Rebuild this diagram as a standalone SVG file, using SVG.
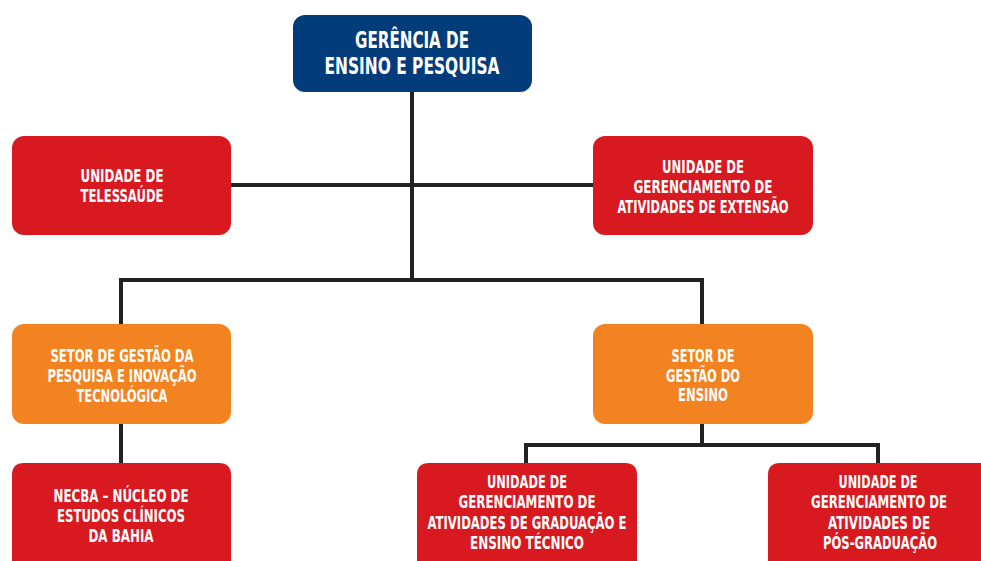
<svg xmlns="http://www.w3.org/2000/svg" width="981" height="561" viewBox="0 0 981 561">
<style>
.navy{fill:#033c7b}
.red{fill:#d8191f}
.orange{fill:#f38321}
text{font-family:"Liberation Sans Narrow","DejaVu Sans Condensed","Liberation Sans",sans-serif;font-weight:bold;fill:#ffffff;text-anchor:middle}
.t{font-size:23px}
.s{font-size:17px}
.c{stroke:#222222;stroke-width:4;fill:none}
</style>
<rect width="981" height="561" fill="#ffffff"/>
<g id="connectors">
<path class="c" d="M412 92 V280"/>
<path class="c" d="M231 185 H593"/>
<path class="c" d="M121 324 V280 H702 V324"/>
<path class="c" d="M121 424 V463"/>
<path class="c" d="M702 424 V445"/>
<path class="c" d="M526 463 V445 H878 V463"/>
</g>
<g id="gerencia">
<rect class="navy" x="293" y="15" width="239" height="77" rx="12"/>
<text class="t" x="412" y="48" textLength="114" lengthAdjust="spacingAndGlyphs">GERÊNCIA DE</text>
<text class="t" x="412" y="74" textLength="175" lengthAdjust="spacingAndGlyphs">ENSINO E PESQUISA</text>
</g>
<g id="telessaude">
<rect class="red" x="12" y="136" width="219" height="99" rx="12"/>
<text class="s" x="122" y="182" textLength="83" lengthAdjust="spacingAndGlyphs">UNIDADE DE</text>
<text class="s" x="122" y="202" textLength="83" lengthAdjust="spacingAndGlyphs">TELESSAÚDE</text>
</g>
<g id="extensao">
<rect class="red" x="593" y="136" width="220" height="99" rx="12"/>
<text class="s" x="703" y="173" textLength="82" lengthAdjust="spacingAndGlyphs">UNIDADE DE</text>
<text class="s" x="703" y="193" textLength="139" lengthAdjust="spacingAndGlyphs">GERENCIAMENTO DE</text>
<text class="s" x="703" y="213" textLength="171" lengthAdjust="spacingAndGlyphs">ATIVIDADES DE EXTENSÃO</text>
</g>
<g id="pesquisa">
<rect class="orange" x="12" y="324" width="219" height="100" rx="12"/>
<text class="s" x="122" y="362" textLength="143" lengthAdjust="spacingAndGlyphs">SETOR DE GESTÃO DA</text>
<text class="s" x="122" y="382" textLength="149" lengthAdjust="spacingAndGlyphs">PESQUISA E INOVAÇÃO</text>
<text class="s" x="122" y="402" textLength="91" lengthAdjust="spacingAndGlyphs">TECNOLÓGICA</text>
</g>
<g id="ensino">
<rect class="orange" x="593" y="324" width="220" height="100" rx="12"/>
<text class="s" x="703" y="362" textLength="63" lengthAdjust="spacingAndGlyphs">SETOR DE</text>
<text class="s" x="703" y="382" textLength="74" lengthAdjust="spacingAndGlyphs">GESTÃO DO</text>
<text class="s" x="703" y="401" textLength="50" lengthAdjust="spacingAndGlyphs">ENSINO</text>
</g>
<g id="necba">
<path class="red" d="M12 561 V475 Q12 463 24 463 H219 Q231 463 231 475 V561 Z"/>
<text class="s" x="121" y="502" textLength="135" lengthAdjust="spacingAndGlyphs">NECBA – NÚCLEO DE</text>
<text class="s" x="121" y="522" textLength="128" lengthAdjust="spacingAndGlyphs">ESTUDOS CLÍNICOS</text>
<text class="s" x="121" y="542" textLength="65" lengthAdjust="spacingAndGlyphs">DA BAHIA</text>
</g>
<g id="graduacao">
<path class="red" d="M417 561 V475 Q417 463 429 463 H625 Q637 463 637 475 V561 Z"/>
<text class="s" x="527" y="488" textLength="80" lengthAdjust="spacingAndGlyphs">UNIDADE DE</text>
<text class="s" x="527" y="508" textLength="137" lengthAdjust="spacingAndGlyphs">GERENCIAMENTO DE</text>
<text class="s" x="527" y="529" textLength="199" lengthAdjust="spacingAndGlyphs">ATIVIDADES DE GRADUAÇÃO E</text>
<text class="s" x="527" y="549" textLength="114" lengthAdjust="spacingAndGlyphs">ENSINO TÉCNICO</text>
</g>
<g id="posgraduacao">
<path class="red" d="M768 561 V475 Q768 463 780 463 H981 V561 Z"/>
<text class="s" x="878" y="488" textLength="79" lengthAdjust="spacingAndGlyphs">UNIDADE DE</text>
<text class="s" x="879" y="508" textLength="136" lengthAdjust="spacingAndGlyphs">GERENCIAMENTO DE</text>
<text class="s" x="879" y="529" textLength="102" lengthAdjust="spacingAndGlyphs">ATIVIDADES DE</text>
<text class="s" x="880" y="549" textLength="114" lengthAdjust="spacingAndGlyphs">PÓS-GRADUAÇÃO</text>
</g>
</svg>
